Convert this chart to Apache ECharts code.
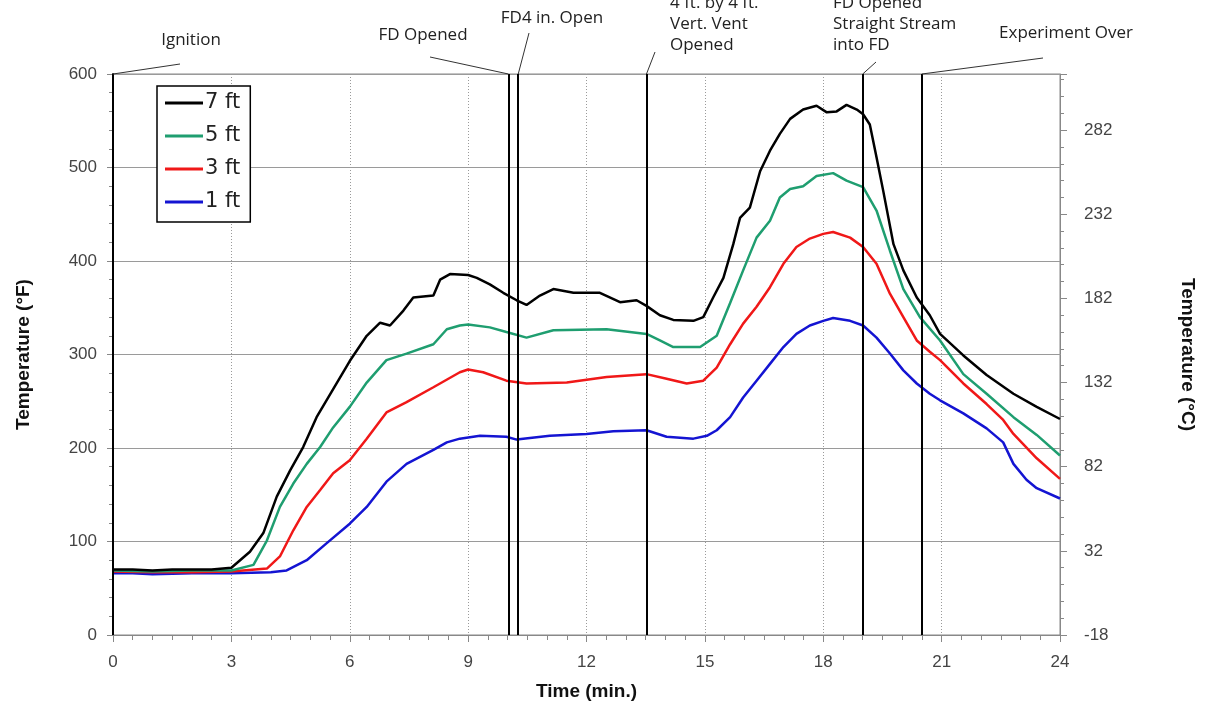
<!DOCTYPE html>
<html>
<head>
<meta charset="utf-8">
<script src="https://cdn.jsdelivr.net/npm/echarts@6/dist/echarts.min.js"></script>
<style>html,body{margin:0;padding:0;background:#fff}#c{width:1209px;height:706px}</style>
</head>
<body>
<div id="c"></div>
<script>
// ---- Data (time in minutes, temperature in °F) ----
const seriesNames = ['7 ft', '5 ft', '3 ft', '1 ft'];

const t7 = [0,0.5,1,1.5,2,2.5,3.0,3.47,3.81,4.15,4.49,4.82,5.16,5.58,6.0,6.43,6.77,7.02,7.36,7.61,8.12,8.29,8.54,9.0,9.22,9.55,9.89,10.23,10.48,10.82,11.16,11.67,12.34,12.85,13.27,13.52,13.86,14.2,14.71,14.96,15.21,15.47,15.72,15.89,16.14,16.4,16.65,16.9,17.16,17.49,17.83,18.09,18.34,18.59,18.85,19.01,19.18,19.35,19.52,19.78,20.03,20.37,20.7,20.96,21.55,22.14,22.82,23.41,24];
const v7 = [70,70,69,70,70,70,72,89,109,148,176,201,233,263,293,320,334,331,347,361,363,380,386,385,382,375,366,358,353,363,370,366,366,356,358,352,342,337,336,340,361,382,418,446,457,496,518,536,552,562,566,559,560,567,562,557,546,511,475,418,390,361,342,322,299,278,258,244,231];

const t5 = [0,1,2,3,3.56,3.9,4.23,4.57,4.91,5.25,5.58,6.0,6.43,6.93,7.44,8.12,8.46,8.79,9.0,9.55,9.97,10.48,11.16,12.51,13.52,13.86,14.2,14.88,15.3,15.64,15.97,16.31,16.65,16.9,17.16,17.49,17.83,18.25,18.59,19.01,19.35,19.69,20.03,20.45,20.96,21.55,22.14,22.82,23.41,24];
const v5 = [69,68,69,69,75,101,137,162,183,201,222,244,270,294,301,311,327,331,332,329,324,318,326,327,322,315,308,308,320,355,390,425,443,468,477,480,491,494,486,479,454,411,370,340,315,279,258,233,214,192];

const t3 = [0,1,2,3,3.9,4.23,4.57,4.91,5.25,5.58,6.0,6.43,6.93,7.44,8.12,8.79,9.0,9.38,9.97,10.48,11.5,12.51,13.52,14.03,14.54,14.96,15.3,15.64,15.97,16.31,16.65,16.99,17.32,17.66,18.0,18.25,18.68,19.01,19.35,19.69,20.03,20.37,20.7,20.96,21.55,22.14,22.56,22.82,23.41,24];
const v3 = [68,67,67,68,71,84,112,137,155,173,187,210,238,249,265,281,284,281,272,269,270,276,279,274,269,272,286,311,333,351,372,397,415,424,429,431,425,415,397,365,340,315,303,294,269,247,230,215,189,167];

const t1 = [0,0.5,1,2,3,4,4.4,4.91,5.41,6.0,6.43,6.93,7.44,8.12,8.46,8.79,9.3,9.97,10.23,11.07,12.0,12.68,13.52,14.03,14.71,15.05,15.3,15.64,15.97,16.31,16.65,16.99,17.32,17.66,18.0,18.25,18.68,19.01,19.35,19.69,20.03,20.37,20.7,20.96,21.55,22.14,22.56,22.82,23.15,23.41,24];
const v1 = [66,66,65,66,66,67,69,80,98,119,137,164,183,198,206,210,213,212,209,213,215,218,219,212,210,213,219,233,254,272,290,308,322,331,336,339,336,331,318,301,283,269,258,251,237,221,206,183,166,157,146];

// Event markers (minutes) and their labels
const eventTimes = [0, 10.02, 10.27, 13.52, 19.0, 20.5];
const eventLabels = ['Ignition', 'FD Opened', 'FD4 in. Open', '4 ft. by 4 ft.\nVert. Vent\nOpened', 'FD Opened\nStraight Stream\ninto FD', 'Experiment Over'];

const xTicks = [0, 3, 6, 9, 12, 15, 18, 21, 24];
const cOffset = 18; // right axis shows °C, plotted as (°C + 18) so that 0 °F ≈ -18 °C

// ---- Styles ----
const colors = ['#000000', '#1f9e70', '#f01818', '#1414d2'];
const lab = {fontFamily: 'Liberation Sans, Arial, sans-serif', fontSize: 17, color: '#444'};
const nameSt = {fontFamily: 'Liberation Sans, Arial, sans-serif', fontSize: 19, fontWeight: 'bold', color: '#111'};

const zip = (t, v) => t.map((x, i) => [x, v[i]]);
const datasets = [zip(t7, v7), zip(t5, v5), zip(t3, v3), zip(t1, v1)];

const chart = echarts.init(document.getElementById('c'), null, {renderer: 'canvas'});

const series = datasets.map((d, i) => ({
  name: seriesNames[i], type: 'line', data: d, showSymbol: false, symbol: 'none',
  lineStyle: {color: colors[i], width: 2.5}, itemStyle: {color: colors[i]},
  z: 5 - i, animation: false
}));
series.push({
  name: 'events', type: 'line', data: [], silent: true, animation: false,
  markLine: {
    silent: true, symbol: ['none', 'none'], animation: false,
    lineStyle: {color: '#000', width: 2, type: 'solid'},
    label: {show: false},
    data: eventTimes.map(t => ({xAxis: t}))
  }
});

chart.setOption({
  animation: false,
  backgroundColor: '#fff',
  grid: {left: 113, right: 149, top: 74, bottom: 68, show: true, borderColor: '#888', borderWidth: 1},
  legend: {
    data: seriesNames, orient: 'vertical', left: 157, top: 86,
    padding: [6, 10, 9, 8], itemGap: 11, itemWidth: 38, itemHeight: 3,
    icon: 'rect', backgroundColor: '#fff', borderColor: '#000', borderWidth: 1.5, borderRadius: 0,
    textStyle: {fontFamily: 'DejaVu Sans, sans-serif', fontSize: 21, color: '#222', padding: [0, 0, 0, -3], lineHeight: 22}
  },
  xAxis: {
    type: 'value', min: 0, max: 24, interval: 3,
    name: 'Time (min.)', nameLocation: 'middle', nameGap: 47, nameTextStyle: nameSt,
    axisLine: {show: true, lineStyle: {color: '#888', width: 1}},
    axisTick: {show: true, inside: false, length: 7, lineStyle: {color: '#888'}},
    minorTick: {show: true, splitNumber: 6, length: 5, lineStyle: {color: '#888'}},
    axisLabel: Object.assign({margin: 19, formatter: v => xTicks.includes(v) ? String(v) : ''}, lab),
    splitLine: {show: true, lineStyle: {color: '#9a9a9a', type: [1, 2], width: 1}}
  },
  yAxis: [
    {
      type: 'value', min: 0, max: 600, interval: 100, position: 'left',
      name: 'Temperature (°F)', nameLocation: 'middle', nameGap: 80, nameTextStyle: nameSt,
      axisLine: {show: true, lineStyle: {color: '#111', width: 2}},
      axisTick: {show: true, inside: false, length: 6, lineStyle: {color: '#888'}},
      minorTick: {show: true, splitNumber: 5, length: 4, lineStyle: {color: '#888'}},
      axisLabel: Object.assign({margin: 16}, lab),
      splitLine: {show: true, lineStyle: {color: '#9a9a9a', width: 1}}
    },
    {
      type: 'value', min: 0, max: 600 * 5 / 9, interval: 50, position: 'right',
      name: 'Temperature (°C)', nameLocation: 'middle', nameGap: 118, nameRotate: -90, nameTextStyle: nameSt,
      axisLine: {show: true, lineStyle: {color: '#888', width: 1}},
      axisTick: {show: true, inside: false, length: 7, lineStyle: {color: '#888'}},
      minorTick: {show: true, splitNumber: 5, length: 4, lineStyle: {color: '#888'}},
      axisLabel: Object.assign({margin: 24, showMaxLabel: false, formatter: v => String(Math.round(v - cOffset))}, lab),
      splitLine: {show: false}
    }
  ],
  series: series
});

// ---- Event annotations: text + leader lines to the top of each marker ----
const annFont = {fontFamily: 'Open Sans, Noto Sans, sans-serif', fontSize: 17, fill: '#222'};
const annText = [
  {x: 191, y: 40, align: 'center'},
  {x: 423, y: 35, align: 'center'},
  {x: 552, y: 18, align: 'center'},
  {x: 670, y: 24, align: 'left'},
  {x: 833, y: 24, align: 'left'},
  {x: 1066, y: 33, align: 'center'}
];
const leaderStart = [[180, 64], [430, 57], [529, 33], [655, 52], [876, 62], [1043, 58]];
const graphics = [];
eventTimes.forEach((t, i) => {
  const top = chart.convertToPixel({xAxisIndex: 0, yAxisIndex: 0}, [t, 600]);
  graphics.push({
    type: 'line', silent: true, z: 10,
    shape: {x1: leaderStart[i][0], y1: leaderStart[i][1], x2: top[0], y2: top[1]},
    style: {stroke: '#333', lineWidth: 1}
  });
  graphics.push({
    type: 'text', silent: true, z: 10, x: annText[i].x, y: annText[i].y,
    style: Object.assign({text: eventLabels[i], align: annText[i].align, verticalAlign: 'middle', lineHeight: 21}, annFont)
  });
});
chart.setOption({graphic: graphics});
</script>
</body>
</html>
